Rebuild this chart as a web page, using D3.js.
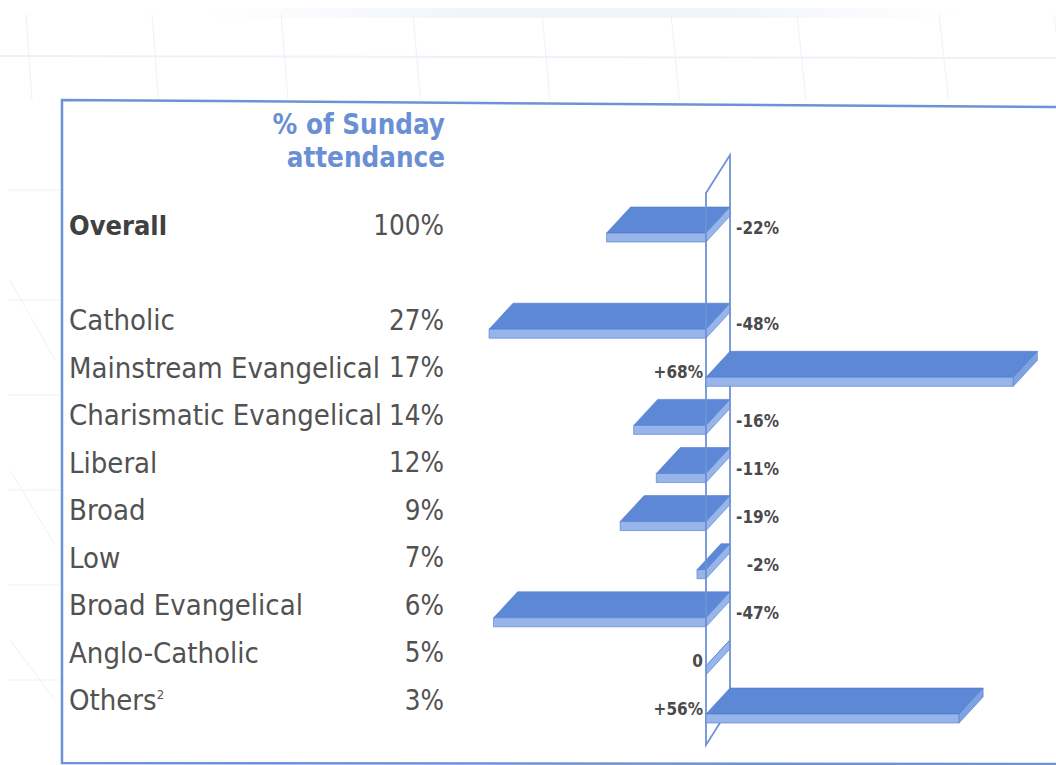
<!DOCTYPE html>
<html>
<head>
<meta charset="utf-8">
<script src="https://cdn.jsdelivr.net/npm/d3@7"></script>
<style>
  body { margin: 0; background: #fff; }
  svg { display: block; }
</style>
</head>
<body>
<div class="canvas"></div>
<script>
// data
const categories = ['Overall', 'Catholic', 'Mainstream Evangelical', 'Charismatic Evangelical',
  'Liberal', 'Broad', 'Low', 'Broad Evangelical', 'Anglo-Catholic', 'Others'];
const shares = ['100%', '27%', '17%', '14%', '12%', '9%', '7%', '6%', '5%', '3%'];
const changes = [-22, -48, 68, -16, -11, -19, -2, -47, 0, 56];
const headerLines = ['% of Sunday', 'attendance'];

const width = 1056, height = 765;
const blue = '#6d93d6';

const svg = d3.select('.canvas')
  .append('svg')
    .attr('width', width)
    .attr('height', height);

// faint background grid of the printed page
const bg = svg.append('g').attr('stroke', '#edf2f9').attr('fill', 'none');
const band = svg.append('defs').append('linearGradient').attr('id', 'band');
band.append('stop').attr('offset', '0%').attr('stop-color', '#fff');
band.append('stop').attr('offset', '35%').attr('stop-color', '#f1f5fb');
band.append('stop').attr('offset', '70%').attr('stop-color', '#f1f5fb');
band.append('stop').attr('offset', '100%').attr('stop-color', '#fff');
bg.append('rect').attr('x', 200).attr('y', 8).attr('width', 760).attr('height', 10)
  .attr('fill', 'url(#band)').attr('stroke', 'none');
bg.append('line').attr('x1', 0).attr('x2', width).attr('y1', 56).attr('y2', 58).attr('stroke-width', 2);
[30, 155, 283, 414, 542, 670, 795, 936, 1050].forEach((gx, i) => {
  bg.append('line').attr('x1', gx - 4 + i).attr('y1', 14).attr('x2', gx + 2 + i * 1.5).attr('y2', 100);
});
[190, 300, 395, 490, 585, 680].forEach(gy => {
  bg.append('line').attr('x1', 8).attr('x2', 60).attr('y1', gy).attr('y2', gy);
});
[[10, 280, 55, 360], [10, 470, 55, 545], [10, 640, 55, 700]].forEach(l => {
  bg.append('line').attr('x1', l[0]).attr('y1', l[1]).attr('x2', l[2]).attr('y2', l[3]);
});

// frame
svg.append('path')
  .attr('d', `M${width},107 L62,100 L62,763 L${width},764`)
  .attr('fill', 'none')
  .attr('stroke', blue)
  .attr('stroke-width', 2.5);

// rows: a spacer slot between Overall and the traditions
const rowKeys = [categories[0], 'gap', ...categories.slice(1)];
const y = d3.scalePoint().domain(rowKeys).range([225, 700]);      // label centres
const yBar = d3.scalePoint().domain(rowKeys).range([242, 723]);   // bar front bottom edge

const x = d3.scaleLinear().domain([-50, 70]).range([706 - 226, 706 + 316.4]);

const data = categories.map((c, i) => ({ name: c, share: shares[i], change: changes[i] }));

const font = "'DejaVu Sans Condensed', 'DejaVu Sans', sans-serif";

// header
const header = svg.append('text')
  .attr('font-family', font)
  .attr('font-weight', 'bold')
  .attr('font-size', 27.5)
  .attr('fill', '#6b8fd4')
  .attr('text-anchor', 'end');
headerLines.forEach((t, i) => {
  header.append('tspan').attr('x', 445).attr('y', 134 + i * 33).text(t);
});

// row labels and shares
const labels = svg.append('g').attr('font-family', font).attr('fill', '#525252');

labels.selectAll('text.name')
  .data(data)
  .enter()
  .append('text')
    .attr('class', 'name')
    .attr('x', 69)
    .attr('y', d => y(d.name))
    .attr('dy', '0.36em')
    .attr('font-size', d => d.name === 'Overall' ? 27 : 29)
    .attr('font-weight', d => d.name === 'Overall' ? 'bold' : 'normal')
    .attr('fill', d => d.name === 'Overall' ? '#404040' : '#525252')
    .each(function(d) {
      const t = d3.select(this);
      t.append('tspan').text(d.name);
      if (d.name === 'Others') {
        t.append('tspan').attr('font-size', 13).attr('dy', '-0.9em').text('2');
      }
    });

labels.selectAll('text.share')
  .data(data)
  .enter()
  .append('text')
    .attr('class', 'share')
    .attr('x', 444)
    .attr('y', d => y(d.name))
    .attr('dy', '0.36em')
    .attr('text-anchor', 'end')
    .attr('font-size', 27.5)
    .text(d => d.share);

// 3D slab geometry
const depthX = 24, depthY = 26, thick = 9;
const topColor = '#5d88d6', frontColor = '#97b5ea', endColor = '#7fa3e2', edge = '#4f7bcb';

function drawBars(g, rows) {
  const bar = g.selectAll('g.bar')
    .data(rows)
    .enter()
    .append('g')
      .attr('class', 'bar')
      .attr('stroke', edge)
      .attr('stroke-width', 0.6)
      .attr('stroke-linejoin', 'round');

  // top face
  bar.append('path')
    .attr('fill', topColor)
    .attr('d', d => {
      const x0 = x(Math.min(0, d.change)), x1 = x(Math.max(0, d.change));
      const ft = yBar(d.name) - thick;
      return `M${x0},${ft} L${x1},${ft} L${x1 + depthX},${ft - depthY} L${x0 + depthX},${ft - depthY} Z`;
    });
  // front face
  bar.append('rect')
    .attr('fill', frontColor)
    .attr('x', d => x(Math.min(0, d.change)))
    .attr('y', d => yBar(d.name) - thick)
    .attr('width', d => x(Math.max(0, d.change)) - x(Math.min(0, d.change)))
    .attr('height', thick);
  // right end face
  bar.append('path')
    .attr('fill', d => d.change > 0 ? endColor : frontColor)
    .attr('d', d => {
      const x1 = x(Math.max(0, d.change));
      const fb = yBar(d.name), ft = fb - thick;
      return `M${x1},${ft} L${x1 + depthX},${ft - depthY} L${x1 + depthX},${fb - depthY} L${x1},${fb} Z`;
    });
}

// negative bars sit behind the zero wall, positive ones stick out in front of it
drawBars(svg.append('g'), data.filter(d => d.change <= 0));

const x0 = x(0);
svg.append('path')
  .attr('d', `M${x0},193 L${x0 + depthX},155 L${x0 + depthX},707 L${x0},745 Z`)
  .attr('fill', 'none')
  .attr('stroke', blue)
  .attr('stroke-width', 1.8);

drawBars(svg.append('g'), data.filter(d => d.change > 0));

// change labels
svg.append('g')
  .attr('font-family', font)
  .attr('font-weight', 'bold')
  .attr('font-size', 17)
  .attr('fill', '#4a4a4a')
  .selectAll('text')
  .data(data)
  .enter()
  .append('text')
    .attr('x', d => d.change < 0 ? x(0) + 73 : x(0) - 3)
    .attr('y', d => yBar(d.name) - 14)
    .attr('dy', '0.36em')
    .attr('text-anchor', 'end')
    .text(d => d.change > 0 ? `+${d.change}%` : d.change === 0 ? '0' : `${d.change}%`);
</script>
</body>
</html>
